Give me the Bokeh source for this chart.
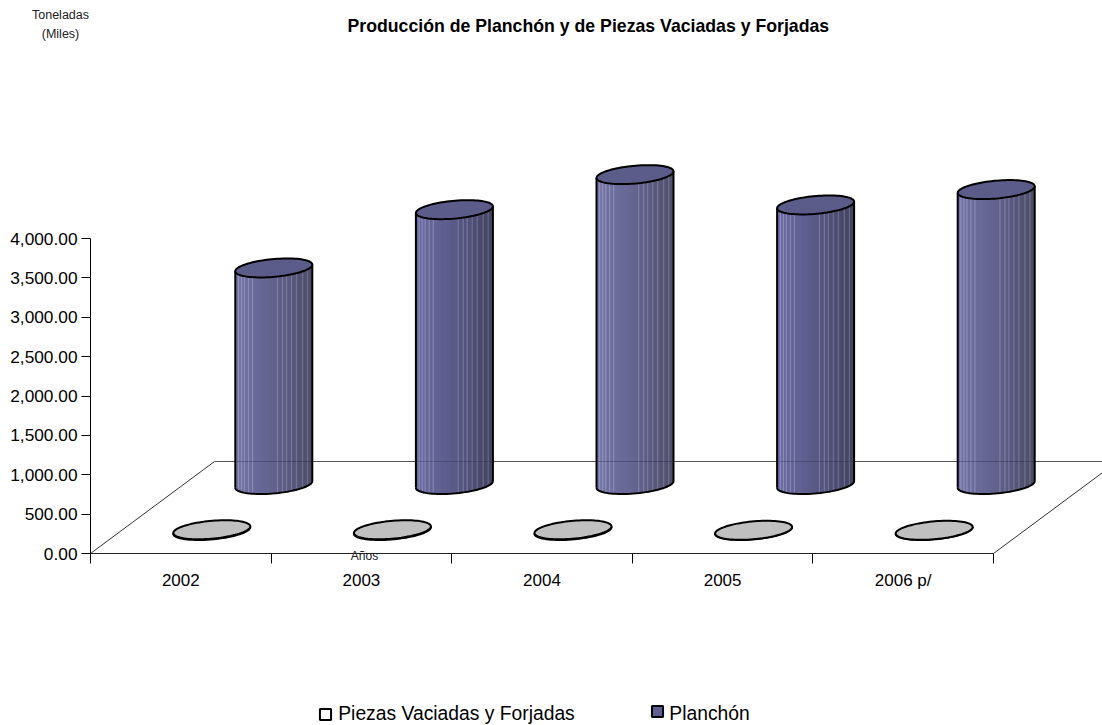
import numpy as np
from bokeh.embed import file_html
from bokeh.resources import INLINE
from bokeh.plotting import figure
from bokeh.models import (ColumnDataSource, FixedTicker, Label,
                          NumeralTickFormatter, Range1d, LinearAxis)

# ---------- data ----------
years = ["2002", "2003", "2004", "2005", "2006 p/"]
planchon = [2750, 3490, 3935, 3550, 3745]
piezas = [10, 10, 10, 3, 3]
series_names = ["Piezas Vaciadas y Forjadas", "Planchón"]
y_ticks = [0, 500, 1000, 1500, 2000, 2500, 3000, 3500, 4000]
stripe_offsets = [3, 6, 9, 13, 17, 42, 47, 51, 56, 61, 67, 72]

# ---------- layout constants (pixels in the page) ----------
FONT = "Liberation Sans"
W, H = 1102, 725
LEFT, RIGHT, AXIS_Y, TOP = 90, 1102, 553, 68
PX_CAT = 180.6
PX_VAL = 315 / 4000
DEPTH_X, DEPTH_Y = 124 / PX_CAT, 92 / PX_VAL   # full floor depth in data units
A = 38.5 / PX_CAT                              # cylinder half width
B1, B2 = 3.3 / PX_VAL, 8.9 / PX_VAL            # ellipse tilt / half height


def project(i, value, depth):
    return i + 0.5 + depth * DEPTH_X, value + depth * DEPTH_Y


def ellipse(cx, cy):
    t = np.linspace(0, 2 * np.pi, 90)
    return cx + A * np.cos(t), cy + B1 * np.cos(t) + B2 * np.sin(t)


def lower_arc(cx, cy, n=40):
    t = np.linspace(np.pi, 2 * np.pi, n)
    return cx + A * np.cos(t), cy + B1 * np.cos(t) + B2 * np.sin(t)


def shade(frac, stripe):
    left, mid, right = np.array([104, 104, 156]), np.array([90, 90, 140]), np.array([62, 62, 92])
    c = left + (mid - left) * frac / 0.4 if frac < 0.4 else mid + (right - mid) * (frac - 0.4) / 0.6
    if stripe:
        c = c + 40
    return "#%02x%02x%02x" % tuple(int(v) for v in np.clip(c, 0, 255))


p = figure(width=W, height=H, output_backend="svg", toolbar_location=None,
           x_range=Range1d(0, (RIGHT - LEFT) / PX_CAT),
           y_range=Range1d(0, (AXIS_Y - TOP) / PX_VAL),
           x_axis_type=None, y_axis_type=None,
           min_border_left=LEFT, min_border_right=0,
           min_border_top=TOP, min_border_bottom=int(H - AXIS_Y),
           title="Producción de Planchón y de Piezas Vaciadas y Forjadas")
p.outline_line_color = None
p.grid.visible = False
p.title.text_font = FONT
p.title.text_font_size = "17.7px"
p.title.text_color = "black"
p.title.align = "left"
p.title.offset = 347 - LEFT

# axes
yax = LinearAxis(ticker=FixedTicker(ticks=y_ticks), bounds=(0, 4000),
                 formatter=NumeralTickFormatter(format="0,0.00"))
yax.major_label_text_font = FONT
yax.major_label_text_font_size = "17.3px"
yax.major_label_text_color = "black"
yax.major_tick_out = 9
yax.major_tick_in = 0
yax.minor_tick_line_color = None
yax.major_label_standoff = 4
yax.axis_line_color = "black"
p.add_layout(yax, "left")

centers = [i + 0.5 for i in range(len(years))]
bounds = list(range(len(years) + 1))
xax = LinearAxis(ticker=FixedTicker(ticks=centers, minor_ticks=bounds), bounds=(0, 5),
                 major_label_overrides=dict(zip(centers, years)))
xax.major_label_text_font = FONT
xax.major_label_text_font_size = "17px"
xax.major_label_text_color = "black"
xax.major_tick_line_color = None
xax.minor_tick_out = 10
xax.minor_tick_in = 0
xax.minor_tick_line_color = "black"
xax.major_label_standoff = 7
xax.axis_line_color = "#222222"
p.add_layout(xax, "below")

# floor
n = len(years)
FLOOR = "#333333"
p.line([0, DEPTH_X], [0, DEPTH_Y], line_color=FLOOR, line_width=1)
p.line([n, n + DEPTH_X], [0, DEPTH_Y], line_color=FLOOR, line_width=1)
p.line([DEPTH_X, n + DEPTH_X], [DEPTH_Y, DEPTH_Y], line_color="#555555", line_width=1)

# Piezas series: flat discs at front row
for i, v in enumerate(piezas):
    cx, cy0 = project(i, 0, 0.25)
    cy1 = cy0 + v
    lx, ly = lower_arc(cx, cy0)
    p.patch(np.r_[lx, lx[::-1]], np.r_[ly, ly[::-1] + v], fill_color="#C0C0C0", line_color="black", line_width=2)
    ex, ey = ellipse(cx, cy1)
    p.patch(ex, ey, fill_color="#C0C0C0", line_color="black", line_width=2)

# Planchon series: cylinders at back row
for i, v in enumerate(planchon):
    cx, cy0 = project(i, 0, 0.75)
    cy1 = cy0 + v
    xs, ys, cols = [], [], []
    width_px = int(2 * A * PX_CAT)
    u = (np.arange(width_px + 1)) / width_px * 2 - 1
    for k in range(width_px):
        um = u[[k, k + 1]]
        low = cy0 + B1 * um - B2 * np.sqrt(np.clip(1 - um ** 2, 0, 1))
        up = cy1 + B1 * um
        px = cx + A * um
        xs.append([px[0], px[1], px[1], px[0]])
        ys.append([low[0], low[1], up[1], up[0]])
        cols.append(shade(k / width_px, k in stripe_offsets))
    src = ColumnDataSource(dict(xs=xs, ys=ys, c=cols))
    p.patches("xs", "ys", source=src, fill_color="c", line_color="c", line_width=0.4)
    # see-through back line
    p.line([cx - A, cx + A], [DEPTH_Y, DEPTH_Y], line_color="#333355", line_alpha=0.3, line_width=1)
    # outline
    lx, ly = lower_arc(cx, cy0)
    p.line(lx, ly, line_color="black", line_width=2)
    p.line([cx - A, cx - A], [cy0 - B1, cy1 - B1], line_color="black", line_width=2)
    p.line([cx + A, cx + A], [cy0 + B1, cy1 + B1], line_color="black", line_width=2)
    ex, ey = ellipse(cx, cy1)
    p.patch(ex, ey, fill_color="#5C5C8A", line_color="black", line_width=2)

# texts (placed in side panels so that they are not clipped by the frame)
def lab(text, x, y, size="12.5px", color="#222222", **kw):
    return Label(x=x, y=y, x_units="screen", y_units="screen", text=text,
                 text_align="center", text_baseline="middle", text_font=FONT,
                 text_font_size=size, text_color=color, **kw)

p.add_layout(lab("Toneladas", 60 - LEFT, 54), "above")
p.add_layout(lab("(Miles)", 60 - LEFT, 21), "above")
p.add_layout(lab("Años", 364 - LEFT, 51, "12px"), "below")

# legend: side-panel labels with boxed swatches
SW = "\u00a0\u00a0\u00a0\u00a0"
p.add_layout(lab(series_names[0], 456 - LEFT, -86, "19.3px", "black"), "below")
p.add_layout(lab(series_names[1], 709 - LEFT, -65, "19.3px", "black"), "below")
p.add_layout(lab(SW, 325 - LEFT, -55, "10px", "black", background_fill_color="white",
                 border_line_color="black", border_line_width=2), "below")
p.add_layout(lab(SW, 657 - LEFT, -41, "10px", "black", background_fill_color="#5F5F93",
                 border_line_color="black", border_line_width=2), "below")

open("out.html", "w").write(file_html(p, INLINE))
